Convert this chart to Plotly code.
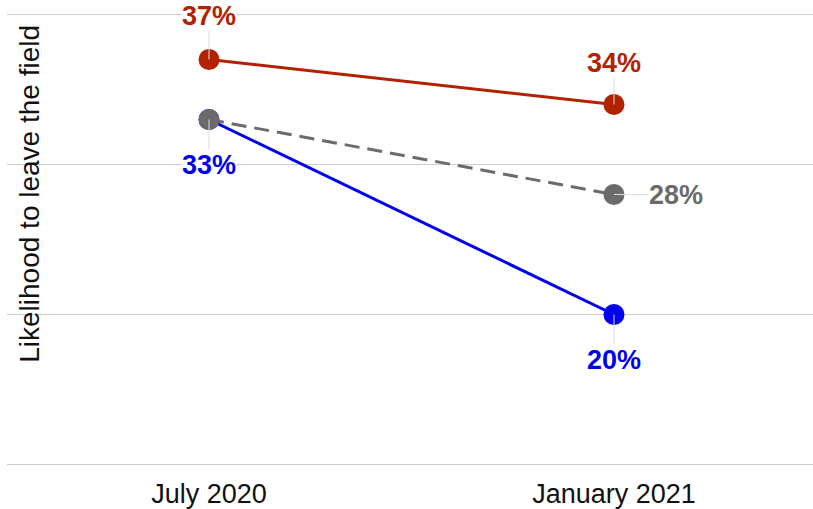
import plotly.graph_objects as go

periods = ["July 2020", "January 2021"]
red_vals = [37, 34]
gray_vals = [33, 28]
blue_vals = [33, 20]
grid_vals = [10, 20, 30, 40]

RED = "#B22200"
BLUE = "#0000EE"
GRAY = "#6B6B6B"
FONT = "Liberation Sans, Arial"

fig = go.Figure()
fig.add_trace(go.Scatter(x=periods, y=blue_vals, mode="lines+markers",
                         line=dict(color=BLUE, width=3),
                         marker=dict(size=21, color=BLUE), showlegend=False))
fig.add_trace(go.Scatter(x=periods, y=gray_vals, mode="lines+markers",
                         line=dict(color=GRAY, width=3, dash="15px,8px"),
                         marker=dict(size=21, color=GRAY), showlegend=False))
fig.add_trace(go.Scatter(x=periods, y=red_vals, mode="lines+markers",
                         line=dict(color=RED, width=3),
                         marker=dict(size=21, color=RED), showlegend=False))

labels = [
    (periods[0], red_vals[0], RED, 0, -44),
    (periods[1], red_vals[1], RED, 0, -42),
    (periods[0], blue_vals[0], BLUE, 0, 45),
    (periods[1], gray_vals[1], GRAY, 62, 0),
    (periods[1], blue_vals[1], BLUE, 0, 45),
]
for x, y, c, ax, ay in labels:
    fig.add_annotation(x=x, y=y, text=f"{y}%", showarrow=True, arrowhead=0,
                       arrowcolor="#DDDDDD", arrowwidth=1, ax=ax, ay=ay,
                       bgcolor="white", borderpad=0, standoff=0,
                       font=dict(family=FONT, size=27, color=c, weight="bold"))

fig.add_annotation(xref="paper", yref="paper", x=0.028, y=0.6,
                   xanchor="center", yanchor="middle",
                   text="Likelihood to leave the field", textangle=-90,
                   showarrow=False, font=dict(family=FONT, size=28, color="#111111"))

fig.update_layout(
    width=813, height=509,
    margin=dict(l=7, r=0, t=13, b=43),
    paper_bgcolor="white", plot_bgcolor="white",
    font=dict(family=FONT, color="#111111"),
    xaxis=dict(range=[-0.4988, 1.4914], showgrid=False, zeroline=False, showline=False,
               tickfont=dict(size=27, color="#111111"), ticklabelstandoff=9),
    yaxis=dict(range=[9.9, 40.1], tickvals=grid_vals, showgrid=True,
               gridcolor="#CCCCCC", gridwidth=1,
               zeroline=False, showticklabels=False, showline=False),
)
fig.write_html("out.html", config={"displayModeBar": False},
               post_script="document.body.style.margin='0';")
